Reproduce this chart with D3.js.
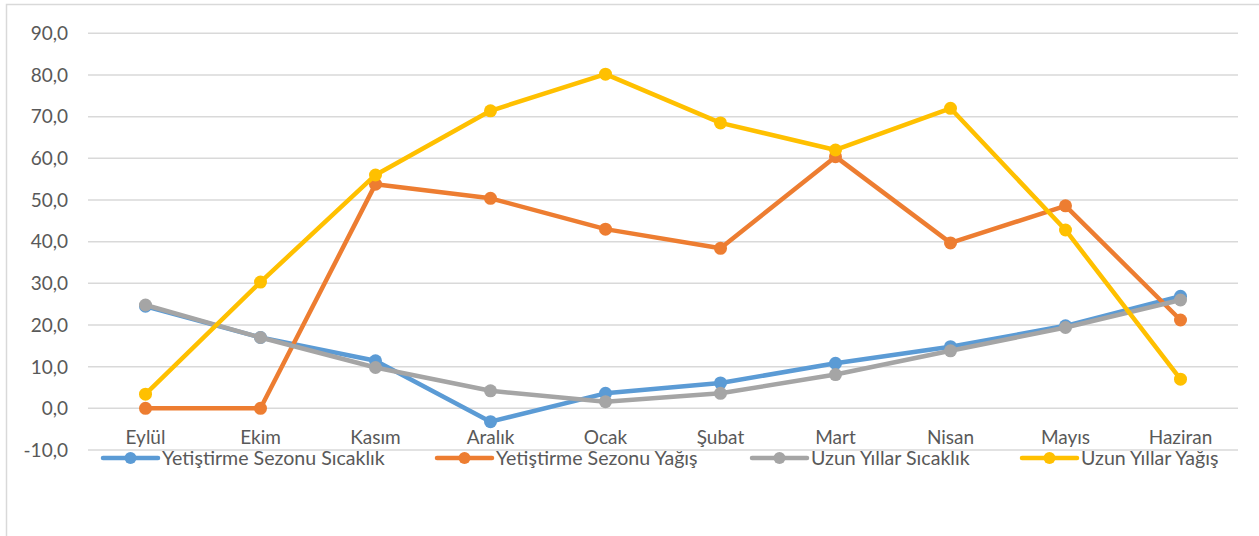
<!DOCTYPE html>
<html>
<head>
<meta charset="utf-8">
<script src="https://cdn.jsdelivr.net/npm/d3@7"></script>
<style>
  html, body { margin: 0; padding: 0; background: #fff; }
  svg { display: block; }
  text { font-family: Lato, "Liberation Sans", sans-serif; fill: #595959; }
</style>
</head>
<body>
<svg id="chart" width="1259" height="536"></svg>
<script>
// Months of the growing season
const months = ["Eylül", "Ekim", "Kasım", "Aralık", "Ocak", "Şubat", "Mart", "Nisan", "Mayıs", "Haziran"];

// Series values (°C for temperature, mm for precipitation)
const sezonSicaklik = [24.5, 17.0, 11.4, -3.2, 3.6, 6.1, 10.8, 14.8, 19.8, 26.9];
const sezonYagis    = [0.0, 0.0, 53.8, 50.4, 43.0, 38.4, 60.4, 39.7, 48.6, 21.2];
const uzunSicaklik  = [24.8, 17.0, 9.8, 4.2, 1.6, 3.6, 8.1, 13.8, 19.4, 26.0];
const uzunYagis     = [3.4, 30.3, 56.0, 71.4, 80.2, 68.5, 62.0, 72.0, 42.8, 7.0];

const seriesNames  = ["Yetiştirme Sezonu Sıcaklık", "Yetiştirme Sezonu Yağış", "Uzun Yıllar Sıcaklık", "Uzun Yıllar Yağış"];
const seriesValues = [sezonSicaklik, sezonYagis, uzunSicaklik, uzunYagis];
const seriesColors = ["#5B9BD5", "#ED7D31", "#A5A5A5", "#FFC000"];

const yTicks = [-10, 0, 10, 20, 30, 40, 50, 60, 70, 80, 90];

const svg = d3.select("#chart");

// outer chart frame
svg.append("rect")
  .attr("x", 6.5).attr("y", 4.5)
  .attr("width", 1262).attr("height", 540)
  .attr("fill", "none").attr("stroke", "#D9D9D9").attr("stroke-width", 1.5);

const plot = { left: 88, right: 1238, top: 33.3, bottom: 450 };

const x = d3.scalePoint().domain(months).range([plot.left, plot.right]).padding(0.5);
const y = d3.scaleLinear().domain([-10, 90]).range([plot.bottom, plot.top]);

// horizontal gridlines
svg.append("g")
  .selectAll("line")
  .data(yTicks)
  .join("line")
  .attr("x1", plot.left).attr("x2", plot.right)
  .attr("y1", d => y(d)).attr("y2", d => y(d))
  .attr("stroke", "#D9D9D9").attr("stroke-width", 1.5);

// y axis labels
const fmt = d => d.toFixed(1).replace(".", ",");
svg.append("g")
  .selectAll("text")
  .data(yTicks)
  .join("text")
  .attr("x", 68).attr("y", d => y(d))
  .attr("dy", "0.36em")
  .attr("text-anchor", "end")
  .attr("font-size", 19)
  .text(fmt);

// category labels
svg.append("g")
  .selectAll("text")
  .data(months)
  .join("text")
  .attr("x", d => x(d)).attr("y", 437)
  .attr("dy", "0.36em")
  .attr("text-anchor", "middle")
  .attr("font-size", 19)
  .text(d => d);

// series lines and markers
const line = d3.line().x((d, i) => x(months[i])).y(d => y(d));
seriesValues.forEach((vals, s) => {
  const g = svg.append("g");
  g.append("path")
    .datum(vals)
    .attr("d", line)
    .attr("fill", "none")
    .attr("stroke", seriesColors[s])
    .attr("stroke-width", 4.5)
    .attr("stroke-linejoin", "round")
    .attr("stroke-linecap", "round");
  g.selectAll("circle")
    .data(vals)
    .join("circle")
    .attr("cx", (d, i) => x(months[i]))
    .attr("cy", d => y(d))
    .attr("r", 6.5)
    .attr("fill", seriesColors[s]);
});

// legend
const legendX = [103, 437, 752, 1022];
const legendY = 458;
const legend = svg.append("g");
seriesNames.forEach((name, s) => {
  const g = legend.append("g").attr("transform", `translate(${legendX[s]},${legendY})`);
  g.append("line")
    .attr("x1", 0).attr("x2", 55).attr("y1", 0).attr("y2", 0)
    .attr("stroke", seriesColors[s]).attr("stroke-width", 4.5)
    .attr("stroke-linecap", "round");
  g.append("circle").attr("cx", 27.5).attr("cy", 0).attr("r", 6).attr("fill", seriesColors[s]);
  g.append("text")
    .attr("x", 59).attr("y", 0).attr("dy", "0.36em")
    .attr("font-size", 19.6)
    .text(name);
});
</script>
</body>
</html>
